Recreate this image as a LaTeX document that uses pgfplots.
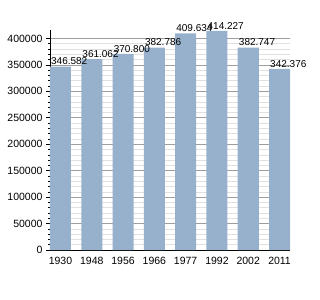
\documentclass[border=0pt]{standalone}
\usepackage{pgfplots}
\pgfplotsset{compat=1.18}
\usepackage{fontspec}
\setmainfont{Liberation Sans}
\definecolor{barc}{RGB}{151,177,204}
\begin{document}
\begin{tikzpicture}
\useasboundingbox (-50bp,-50bp) rectangle (270bp,250bp);
\begin{axis}[
  at={(0,0)}, anchor=south west,
  scale only axis, width=240bp, height=220bp,
  xmin=-0.334, xmax=7.334, ymin=0, ymax=416000,
  axis lines*=left,
  axis line style={black, line width=0.8pt},
  xtick={0,...,7},
  xticklabels={1930,1948,1956,1966,1977,1992,2002,2011},
  x tick style={draw=none},
  ytick={0,50000,...,400000},
  minor y tick num=4,
  scaled y ticks=false,
  yticklabel style={/pgf/number format/fixed, /pgf/number format/1000 sep={}},
  /pgf/number format/assume math mode=true,
  tick label style={font=\fontsize{10.5bp}{12bp}\selectfont},
  tick align=outside,
  major tick length=4bp, minor tick length=2bp,
  y tick style={black, line width=0.6pt},
  ymajorgrids, yminorgrids,
  major grid style={color=black!38, line width=0.6pt},
  minor grid style={color=black!12, line width=0.6pt},
  enlargelimits=false,
  clip=false,
]
\addplot[ybar, bar width=21bp, fill=barc, draw=none,
  point meta=explicit symbolic,
  nodes near coords,
  nodes near coords style={anchor=south west, xshift=-10.5bp, inner sep=1bp, yshift=0.5bp, font=\fontsize{10bp}{12bp}\selectfont, text=black}]
  table[meta=lab] {
x y lab
0 346582 346.582
1 361062 361.062
2 370800 370.800
3 382786 382.786
4 409634 409.634
5 414227 414.227
6 382747 382.747
7 342376 342.376
};
\end{axis}
\end{tikzpicture}
\end{document}
